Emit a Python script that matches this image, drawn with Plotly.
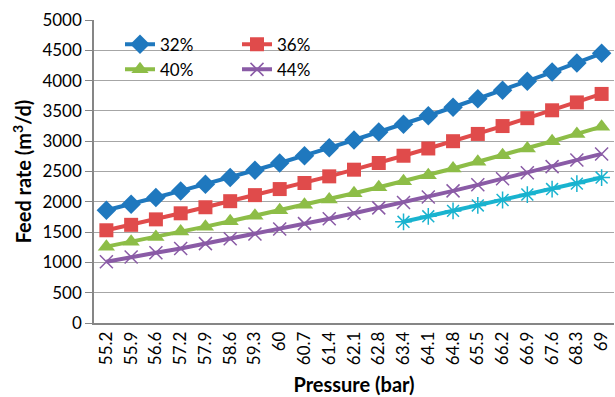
import plotly.graph_objects as go

pressure = ["55.2", "55.9", "56.6", "57.2", "57.9", "58.6", "59.3", "60", "60.7", "61.4",
            "62.1", "62.8", "63.4", "64.1", "64.8", "65.5", "66.2", "66.9", "67.6", "68.3", "69"]

s32 = [1860, 1960, 2070, 2180, 2290, 2400, 2520, 2640, 2760, 2890, 3020, 3150, 3280,
       3420, 3560, 3700, 3840, 3990, 4140, 4290, 4450]
s36 = [1530, 1620, 1710, 1810, 1910, 2010, 2110, 2210, 2310, 2420, 2530, 2640, 2760,
       2880, 3000, 3120, 3250, 3380, 3510, 3640, 3780]
s40 = [1260, 1340, 1420, 1510, 1590, 1680, 1770, 1860, 1950, 2040, 2140, 2240, 2340,
       2440, 2550, 2660, 2770, 2880, 3000, 3120, 3240]
s44 = [1010, 1090, 1160, 1230, 1310, 1390, 1470, 1550, 1640, 1720, 1810, 1900, 1990,
       2080, 2180, 2280, 2380, 2480, 2580, 2690, 2790]
s48_x = ["63.4", "64.1", "64.8", "65.5", "66.2", "66.9", "67.6", "68.3", "69"]
s48 = [1670, 1760, 1850, 1940, 2030, 2120, 2210, 2300, 2400]

FONT = "Lato"

fig = go.Figure()
fig.add_trace(go.Scatter(x=pressure, y=s32, name="32%", mode="lines+markers",
                         line=dict(color="#1F78BE", width=4),
                         marker=dict(symbol="diamond", size=15, color="#1F78BE"),
                         legend="legend"))
fig.add_trace(go.Scatter(x=pressure, y=s36, name="36%", mode="lines+markers",
                         line=dict(color="#E04B4B", width=4),
                         marker=dict(symbol="square", size=14, color="#E04B4B"),
                         legend="legend"))
fig.add_trace(go.Scatter(x=pressure, y=s40, name="40%", mode="lines+markers",
                         line=dict(color="#8DBD47", width=4),
                         marker=dict(symbol="triangle-up", size=15, color="#8DBD47"),
                         legend="legend2"))
fig.add_trace(go.Scatter(x=pressure, y=s44, name="44%", mode="lines+markers",
                         line=dict(color="#8A5BA6", width=4),
                         marker=dict(symbol="x-thin-open", size=13, color="#8A5BA6",
                                     line=dict(color="#8A5BA6", width=1.5)),
                         legend="legend2"))
fig.add_trace(go.Scatter(x=s48_x, y=s48, name="48%", mode="lines+markers",
                         line=dict(color="#19B3CF", width=4),
                         marker=dict(symbol="asterisk-open", size=14, color="#19B3CF",
                                     line=dict(color="#19B3CF", width=1.5)),
                         showlegend=False))

legend_common = dict(orientation="h", bgcolor="rgba(0,0,0,0)", entrywidth=72,
                     font=dict(family=FONT, size=17, color="#000000"),
                     xanchor="left", yanchor="top", traceorder="normal")

fig.update_layout(
    width=615, height=397,
    margin=dict(l=94, r=1, t=20, b=74),
    paper_bgcolor="white", plot_bgcolor="white",
    font=dict(family=FONT, size=17, color="#000000"),
    legend=dict(x=0.05, y=0.978, **legend_common),
    legend2=dict(x=0.05, y=0.895, **legend_common),
    xaxis=dict(
        type="category", tickangle=-90, showgrid=False,
        showline=True, linecolor="#868686", linewidth=1.5,
        ticks="", tickfont=dict(family=FONT, size=17),
        title=dict(text="<b>Pressure (bar)</b>", font=dict(family=FONT, size=20),
                   standoff=14),
        range=[-0.5, 20.5],
    ),
    yaxis=dict(
        range=[0, 5000], dtick=500, showgrid=True, gridcolor="#A6A6A6", gridwidth=1,
        showline=True, linecolor="#868686", linewidth=1.5,
        ticks="outside", ticklen=7, tickcolor="#868686",
        tickfont=dict(family=FONT, size=17),
        title=dict(text="<b>Feed rate (m<sup>3</sup>/d)</b>", font=dict(family=FONT, size=20),
                   standoff=5),
        zeroline=False,
    ),
)

fig.write_html("out.html")
